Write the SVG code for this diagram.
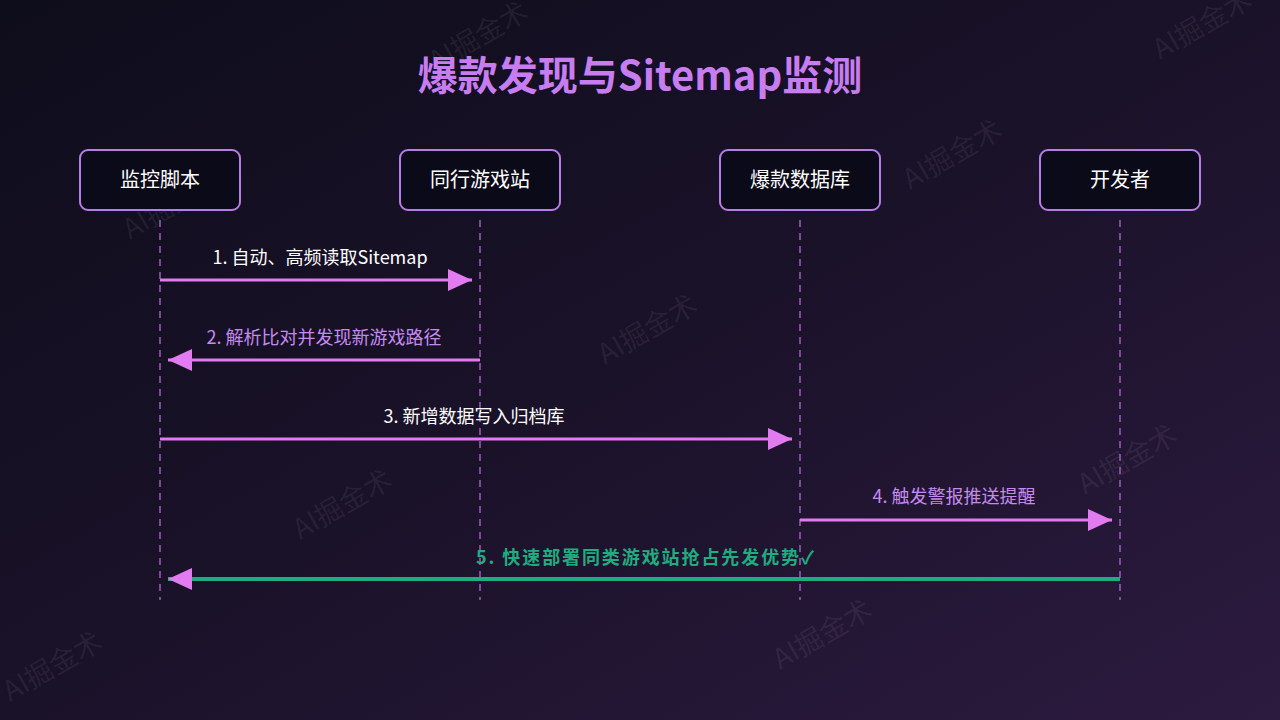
<svg xmlns="http://www.w3.org/2000/svg" width="1280" height="720" viewBox="0 0 1280 720">
<defs>
<linearGradient id="bg" x1="0" y1="0" x2="1" y2="1">
<stop offset="0" stop-color="#0e0d1b"/>
<stop offset="0.5" stop-color="#1a1229"/>
<stop offset="1" stop-color="#2c1a3f"/>
</linearGradient>
<marker id="ah" viewBox="0 0 24 22" refX="24" refY="11" markerWidth="24" markerHeight="22" markerUnits="userSpaceOnUse" orient="auto">
<path d="M0,0 L24,11 L0,22 Z" fill="#e27af0"/>
</marker>
<style>
.node rect{fill:#0b0a19;stroke:#b57ee6;stroke-width:2}
.node text{font-family:"Noto Sans CJK SC","Noto Sans",sans-serif;font-size:20px;fill:#ffffff;text-anchor:middle}
.life{stroke:#a05cc0;stroke-width:1.5;stroke-dasharray:7 6}
.msg{stroke:#e27af0;stroke-width:3;fill:none;marker-end:url(#ah)}
.lbl{font-family:"Noto Sans CJK SC","Noto Sans",sans-serif;font-size:18px;text-anchor:middle}
.wm{font-family:"Noto Sans CJK SC","Noto Sans",sans-serif;font-size:28px;fill:#ffffff;fill-opacity:0.07}
</style>
</defs>
<rect width="1280" height="720" fill="url(#bg)"/>
<g id="watermarks">
<text class="wm" transform="translate(130,240) rotate(-30)">AI掘金术</text>
<text class="wm" transform="translate(436,72) rotate(-30)">AI掘金术</text>
<text class="wm" transform="translate(910,190) rotate(-30)">AI掘金术</text>
<text class="wm" transform="translate(605,365) rotate(-30)">AI掘金术</text>
<text class="wm" transform="translate(300,540) rotate(-30)">AI掘金术</text>
<text class="wm" transform="translate(1085,495) rotate(-30)">AI掘金术</text>
<text class="wm" transform="translate(780,670) rotate(-30)">AI掘金术</text>
<text class="wm" transform="translate(10,702) rotate(-30)">AI掘金术</text>
<text class="wm" transform="translate(1160,60) rotate(-30)">AI掘金术</text>
</g>
<text x="640" y="90" text-anchor="middle" font-family="'Noto Sans CJK SC','Noto Sans',sans-serif" font-size="40" font-weight="bold" fill="#c77df0">爆款发现与Sitemap监测</text>
<g id="lifelines">
<line class="life" x1="160" y1="220" x2="160" y2="600"/>
<line class="life" x1="480" y1="220" x2="480" y2="600"/>
<line class="life" x1="800" y1="220" x2="800" y2="600"/>
<line class="life" x1="1120" y1="220" x2="1120" y2="600"/>
</g>
<g id="node-monitor" class="node"><rect x="80" y="150" width="160" height="60" rx="8"/><text x="160" y="187">监控脚本</text></g>
<g id="node-peer" class="node"><rect x="400" y="150" width="160" height="60" rx="8"/><text x="480" y="187">同行游戏站</text></g>
<g id="node-db" class="node"><rect x="720" y="150" width="160" height="60" rx="8"/><text x="800" y="187">爆款数据库</text></g>
<g id="node-dev" class="node"><rect x="1040" y="150" width="160" height="60" rx="8"/><text x="1120" y="187">开发者</text></g>
<g id="connectors">
<line class="msg" x1="160" y1="280" x2="472" y2="280"/>
<text class="lbl" x="320" y="264" fill="#ffffff">1. 自动、高频读取Sitemap</text>
<line class="msg" x1="480" y1="360" x2="168" y2="360"/>
<text class="lbl" x="324" y="344" fill="#c58af0">2. 解析比对并发现新游戏路径</text>
<line class="msg" x1="160" y1="439" x2="792" y2="439"/>
<text class="lbl" x="474" y="423" fill="#ffffff">3. 新增数据写入归档库</text>
<line class="msg" x1="800" y1="520" x2="1112" y2="520"/>
<text class="lbl" x="954" y="503" fill="#c58af0">4. 触发警报推送提醒</text>
<line class="msg" x1="1120" y1="579" x2="168" y2="579" style="stroke:#1fad80;stroke-width:4"/>
<text class="lbl" x="645" y="564" fill="#1fad80" font-weight="bold" font-size="19" textLength="338">5. 快速部署同类游戏站抢占先发优势✓</text>
</g>
</svg>
